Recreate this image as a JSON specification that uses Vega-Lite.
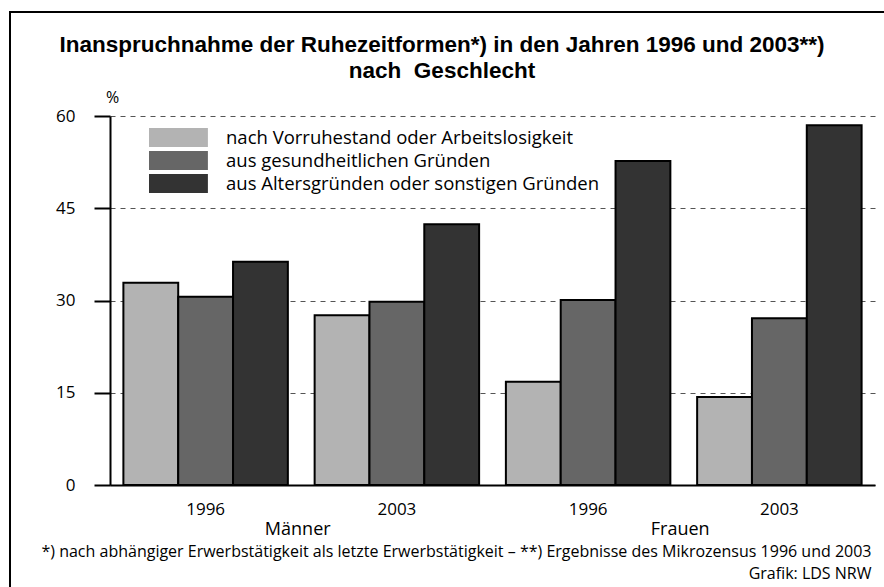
{
  "$schema": "https://vega.github.io/schema/vega-lite/v6.json",
  "width": 884,
  "height": 585,
  "autosize": {"type": "none"},
  "padding": {"left": 10, "top": 12, "right": -10, "bottom": -10},
  "background": "white",
  "config": {
    "view": {"stroke": "black", "strokeWidth": 2},
    "font": "Open Sans"
  },
  "title": {
    "text": ["Inanspruchnahme der Ruhezeitformen*) in den Jahren 1996 und 2003**)", "nach\u00a0 Geschlecht"],
    "orient": "top",
    "anchor": "middle",
    "offset": -70,
    "dx": -10,
    "font": "Liberation Sans",
    "fontSize": 22.5,
    "fontWeight": "bold",
    "lineHeight": 26,
    "color": "black"
  },
  "layer": [
    {
      "data": {
        "values": [
          {"gruppe": "Männer 1996", "form": "nach Vorruhestand oder Arbeitslosigkeit", "anteil": 32.9},
          {"gruppe": "Männer 1996", "form": "aus gesundheitlichen Gründen", "anteil": 30.6},
          {"gruppe": "Männer 1996", "form": "aus Altersgründen oder sonstigen Gründen", "anteil": 36.3},
          {"gruppe": "Männer 2003", "form": "nach Vorruhestand oder Arbeitslosigkeit", "anteil": 27.6},
          {"gruppe": "Männer 2003", "form": "aus gesundheitlichen Gründen", "anteil": 29.8},
          {"gruppe": "Männer 2003", "form": "aus Altersgründen oder sonstigen Gründen", "anteil": 42.4},
          {"gruppe": "Frauen 1996", "form": "nach Vorruhestand oder Arbeitslosigkeit", "anteil": 16.8},
          {"gruppe": "Frauen 1996", "form": "aus gesundheitlichen Gründen", "anteil": 30.1},
          {"gruppe": "Frauen 1996", "form": "aus Altersgründen oder sonstigen Gründen", "anteil": 52.7},
          {"gruppe": "Frauen 2003", "form": "nach Vorruhestand oder Arbeitslosigkeit", "anteil": 14.3},
          {"gruppe": "Frauen 2003", "form": "aus gesundheitlichen Gründen", "anteil": 27.1},
          {"gruppe": "Frauen 2003", "form": "aus Altersgründen oder sonstigen Gründen", "anteil": 58.5}
        ]
      },
      "mark": {"type": "bar", "stroke": "black", "strokeWidth": 2},
      "encoding": {
        "x": {
          "field": "gruppe",
          "type": "nominal",
          "sort": ["Männer 1996", "Männer 2003", "Frauen 1996", "Frauen 2003"],
          "scale": {"range": [100, 865], "paddingInner": 0.14, "paddingOuter": 0.07},
          "axis": {
            "orient": "bottom",
            "offset": -112,
            "labelExpr": "split(datum.label, ' ')[1]",
            "labelAngle": 0,
            "labelFontSize": 17,
            "labelColor": "black",
            "labelPadding": 16,
            "ticks": false,
            "domainColor": "black",
            "domainWidth": 2,
            "title": ["*) nach abhängiger Erwerbstätigkeit als letzte Erwerbstätigkeit – **) Ergebnisse des Mikrozensus 1996 und 2003", "Grafik: LDS NRW"],
            "titleX": 861,
            "titleY": 58,
            "titleAlign": "right",
            "titleBaseline": "top",
            "titleFontSize": 16,
            "titleFontWeight": "normal",
            "titleColor": "black",
            "titleLineHeight": 22
          }
        },
        "xOffset": {
          "field": "form",
          "type": "nominal",
          "sort": ["nach Vorruhestand oder Arbeitslosigkeit", "aus gesundheitlichen Gründen", "aus Altersgründen oder sonstigen Gründen"],
          "scale": {"paddingInner": 0, "paddingOuter": 0}
        },
        "y": {
          "field": "anteil",
          "type": "quantitative",
          "scale": {"domain": [0, 60], "range": [473, 104]},
          "axis": {
            "values": [0, 15, 30, 45, 60],
            "offset": -100,
            "title": "%",
            "titleAngle": 0,
            "titleX": 2,
            "titleY": 85,
            "titleAlign": "center",
            "titleBaseline": "middle",
            "titleFontSize": 16,
            "titleFontWeight": "normal",
            "titleColor": "black",
            "domainColor": "black",
            "domainWidth": 2,
            "tickColor": "black",
            "tickWidth": 2,
            "tickSize": 16,
            "labelFontSize": 17,
            "labelColor": "black",
            "labelPadding": 19,
            "grid": true,
            "gridDash": [5, 5],
            "gridColor": "#555555",
            "gridWidth": 1
          }
        },
        "color": {
          "field": "form",
          "type": "nominal",
          "sort": ["nach Vorruhestand oder Arbeitslosigkeit", "aus gesundheitlichen Gründen", "aus Altersgründen oder sonstigen Gründen"],
          "scale": {"range": ["#b3b3b3", "#666666", "#333333"]},
          "legend": {
            "orient": "none",
            "legendX": 139,
            "legendY": 116,
            "title": null,
            "padding": 0,
            "symbolType": "M-1,-1H5.2V1H-1Z",
            "symbolSize": 361,
            "symbolStrokeWidth": 0,
            "symbolStrokeColor": "transparent",
            "symbolOpacity": 1,
            "labelOffset": 58,
            "labelFontSize": 18.5,
            "labelColor": "black",
            "labelLimit": 600,
            "rowPadding": 4
          }
        }
      }
    },
    {
      "data": {
        "values": [
          {"geschlecht": "Männer", "gruppe": "Männer 1996"},
          {"geschlecht": "Frauen", "gruppe": "Frauen 1996"}
        ]
      },
      "mark": {"type": "text", "fontSize": 18, "baseline": "middle", "align": "center", "dy": 45, "color": "black"},
      "encoding": {
        "x": {
          "field": "gruppe",
          "type": "nominal",
          "sort": ["Männer 1996", "Männer 2003", "Frauen 1996", "Frauen 2003"],
          "bandPosition": 1.06
        },
        "y": {"datum": 0, "type": "quantitative"},
        "text": {"field": "geschlecht"}
      }
    }
  ]
}
